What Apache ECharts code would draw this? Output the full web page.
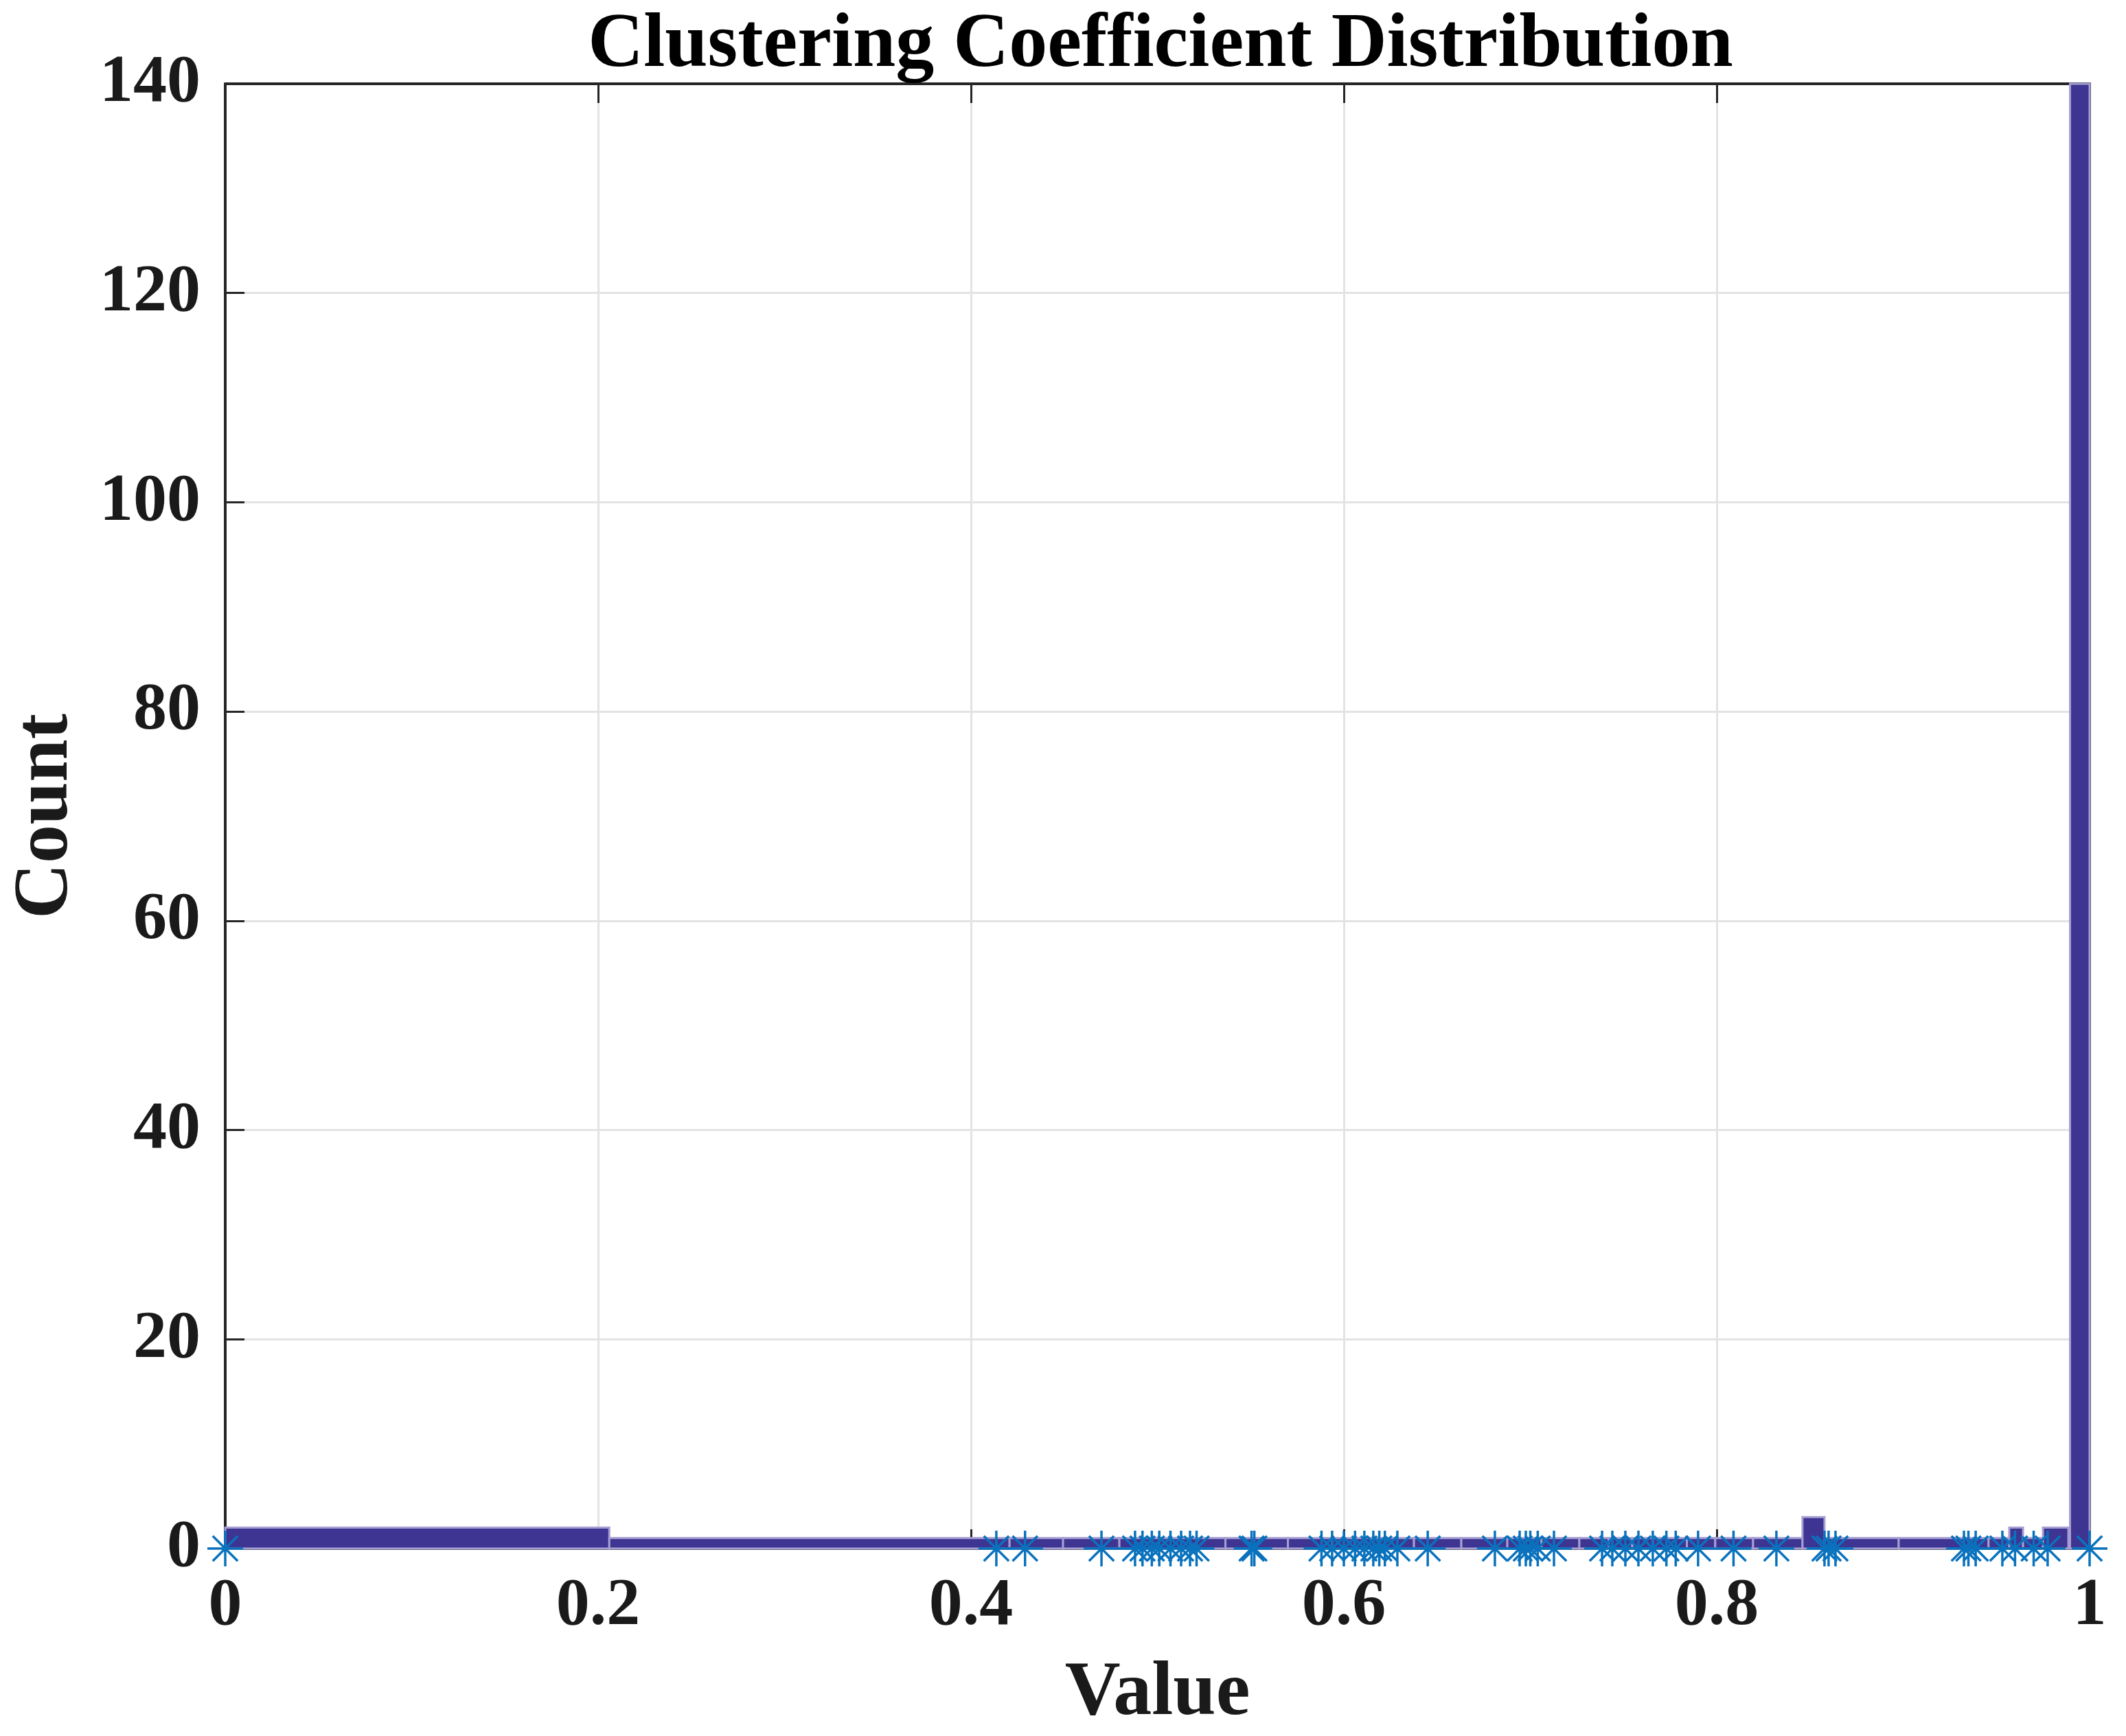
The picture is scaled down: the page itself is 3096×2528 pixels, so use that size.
<!DOCTYPE html>
<html>
<head>
<meta charset="utf-8">
<script src="https://cdn.jsdelivr.net/npm/echarts@6/dist/echarts.min.js"></script>
<style>
html,body{margin:0;padding:0;background:#ffffff;}
#chart{width:3096px;height:2528px;}
</style>
</head>
<body>
<div id="chart"></div>
<script>
// Histogram bins (left edge, right edge, count)
const binLeft  = [0, 0.206, 0.4207, 0.4494, 0.4796, 0.5365, 0.570, 0.5937, 0.606, 0.6376, 0.663, 0.6877, 0.706, 0.7263, 0.742, 0.7547, 0.7657, 0.784, 0.7992, 0.8195, 0.846, 0.8578, 0.8976, 0.9458, 0.9569, 0.9643, 0.975, 0.9895];
const binRight = [0.206, 0.4207, 0.4494, 0.4796, 0.5365, 0.570, 0.5937, 0.606, 0.6376, 0.663, 0.6877, 0.706, 0.7263, 0.742, 0.7547, 0.7657, 0.784, 0.7992, 0.8195, 0.846, 0.8578, 0.8976, 0.9458, 0.9569, 0.9643, 0.975, 0.9886, 1.0];
const binCounts = [2, 1, 1, 1, 1, 1, 1, 1, 1, 1, 1, 1, 1, 1, 1, 1, 1, 1, 1, 1, 3, 1, 1, 1, 2, 1, 2, 140];

// Individual clustering coefficient values (plotted as stars at y = 0)
const starValues = [0, 0.4136, 0.429, 0.470, 0.488, 0.492, 0.497, 0.501, 0.507, 0.5127, 0.5175, 0.521,
  0.5505, 0.552, 0.588, 0.5937, 0.600, 0.606, 0.611, 0.6158, 0.619, 0.622, 0.6287, 0.645,
  0.681, 0.6943, 0.6976, 0.700, 0.704, 0.7127, 0.7385, 0.744, 0.751, 0.758, 0.7657, 0.773, 0.778, 0.790,
  0.809, 0.832, 0.8578, 0.860, 0.8637, 0.9326, 0.935, 0.9389, 0.9532, 0.960, 0.970, 0.9775, 1.0];

const xTickValues = [0, 0.2, 0.4, 0.6, 0.8, 1];
const yTickValues = [0, 20, 40, 60, 80, 100, 120, 140];

const FONT = '"Liberation Serif", "DejaVu Serif", serif';
const chart = echarts.init(document.getElementById('chart'), null, {renderer: 'canvas'});

const axisColor = '#262626';
const starPath = 'path://M10,0L10,20M0,10L20,10M3,3L17,17M3,17L17,3';

const option = {
  backgroundColor: '#ffffff',
  animation: false,
  title: {
    text: 'Clustering Coefficient Distribution',
    left: 1685, textAlign: 'center',
    top: 6,
    textStyle: {fontFamily: FONT, fontWeight: 'bold', fontSize: 112, color: '#000000'}
  },
  grid: {left: 328, right: 53, top: 122, bottom: 268, containLabel: false},
  xAxis: [{
    type: 'value', min: 0, max: 1, interval: 0.2,
    name: 'Value', nameLocation: 'middle', nameGap: 156,
    nameTextStyle: {fontFamily: FONT, fontWeight: 'bold', fontSize: 112, color: '#1a1a1a'},
    axisLine: {show: true, lineStyle: {color: axisColor, width: 4}},
    axisTick: {show: true, inside: true, length: 28, lineStyle: {color: axisColor, width: 3}},
    axisLabel: {show: true, margin: 36, fontFamily: FONT, fontWeight: 'bold', fontSize: 98, color: '#1a1a1a',
      formatter: function (v) { return xTickValues.indexOf(+v.toFixed(1)) >= 0 ? String(+v.toFixed(1)) : ''; }},
    splitLine: {show: true, lineStyle: {color: '#e3e3e3', width: 3}}
  }, {
    type: 'value', min: 0, max: 1, interval: 0.2, position: 'top',
    axisLine: {show: true, onZero: false, lineStyle: {color: axisColor, width: 4}},
    axisTick: {show: true, inside: true, length: 28, lineStyle: {color: axisColor, width: 3}},
    axisLabel: {show: false}, splitLine: {show: false}
  }],
  yAxis: [{
    type: 'value', min: 0, max: 140, interval: 20,
    name: 'Count', nameLocation: 'middle', nameGap: 204,
    nameTextStyle: {fontFamily: FONT, fontWeight: 'bold', fontSize: 112, color: '#1a1a1a'},
    axisLine: {show: true, lineStyle: {color: axisColor, width: 4}},
    axisTick: {show: true, inside: true, length: 28, lineStyle: {color: axisColor, width: 3}},
    axisLabel: {show: true, margin: 36, fontFamily: FONT, fontWeight: 'bold', fontSize: 98, color: '#1a1a1a'},
    splitLine: {show: true, lineStyle: {color: '#e3e3e3', width: 3}}
  }, {
    type: 'value', min: 0, max: 140, interval: 20, position: 'right',
    axisLine: {show: true, onZero: false, lineStyle: {color: axisColor, width: 4}},
    axisTick: {show: true, inside: true, length: 28, lineStyle: {color: axisColor, width: 3}},
    axisLabel: {show: false}, splitLine: {show: false}
  }],
  series: [{
    type: 'custom',
    xAxisIndex: 0, yAxisIndex: 0,
    z: 3,
    clip: false,
    data: binLeft.map(function (l, i) { return [l, binRight[i], binCounts[i]]; }),
    encode: {x: [0, 1], y: 2},
    renderItem: function (params, api) {
      const x0 = api.value(0), x1 = api.value(1), h = api.value(2);
      const pTop = api.coord([x0, h]);
      const pBot = api.coord([x1, 0]);
      return {
        type: 'rect',
        shape: {x: pTop[0], y: pTop[1], width: pBot[0] - pTop[0], height: pBot[1] - pTop[1]},
        style: {fill: '#3e3492', stroke: '#a59fd2', lineWidth: 3}
      };
    }
  }, {
    type: 'scatter',
    xAxisIndex: 0, yAxisIndex: 0,
    z: 5,
    clip: false,
    symbol: starPath,
    symbolSize: 52,
    itemStyle: {color: 'rgba(0,0,0,0)', borderColor: '#0a72bd', borderWidth: 3.5, opacity: 1},
    data: starValues.map(function (v) { return [v, 0]; })
  }]
};
chart.setOption(option);
</script>
</body>
</html>
